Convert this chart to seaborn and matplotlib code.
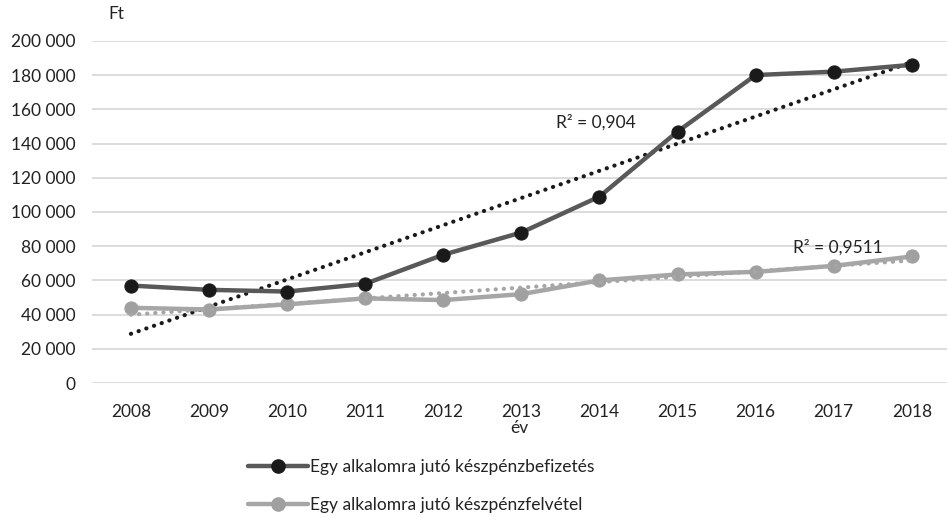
import numpy as np
import pandas as pd
import matplotlib
matplotlib.use("Agg")
import matplotlib.pyplot as plt
from matplotlib.lines import Line2D
import seaborn as sns

years = [2008, 2009, 2010, 2011, 2012, 2013, 2014, 2015, 2016, 2017, 2018]
befizetes = [57000, 54500, 53500, 58000, 75000, 88000, 109000, 147000, 180000, 182000, 186000]
felvetel = [44000, 43000, 46000, 49500, 48500, 52000, 60000, 63500, 65000, 68500, 74000]
series_names = ["Egy alkalomra jutó készpénzbefizetés", "Egy alkalomra jutó készpénzfelvétel"]
r2_labels = ["R² = 0,904", "R² = 0,9511"]
y_ticks = [0, 20000, 40000, 60000, 80000, 100000, 120000, 140000, 160000, 180000, 200000]

line_colors = ["#595959", "#a6a6a6"]
marker_colors = ["#1a1a1a", "#a0a0a0"]
trend_colors = ["#1a1a1a", "#a6a6a6"]
FS = 12.5

sns.set_style("white")
plt.rcParams["font.family"] = ["Lato", "DejaVu Sans"]
plt.rcParams["font.size"] = FS

df = pd.DataFrame({
    "idx": list(range(len(years))) * 2,
    "value": befizetes + felvetel,
    "series": [series_names[0]] * len(years) + [series_names[1]] * len(years),
})

fig = plt.figure(figsize=(9.47, 5.17), dpi=100)
ax = fig.add_axes([0.097, 0.259, 0.903, 0.662])

# gridlines first so they sit behind the data
for t in y_ticks:
    ax.axhline(t, color="#d9d9d9", lw=1.3, zorder=0)

x = np.arange(len(years))
for i, vals in enumerate([befizetes, felvetel]):
    # linear trendline, like Excel's
    k, b = np.polyfit(x, vals, 1)
    ax.plot(x, k * x + b, linestyle=(0, (0.05, 1.9)), color=trend_colors[i],
            lw=3, dash_capstyle="round", zorder=2 + i * 2)

for i, name in enumerate(series_names):
    sub = df[df["series"] == name]
    sns.lineplot(data=sub, x="idx", y="value", ax=ax, color=line_colors[i], lw=3.2,
                 marker="o", markersize=9.5, markerfacecolor=marker_colors[i],
                 markeredgecolor=marker_colors[i], legend=False, zorder=5 - i * 2)

ax.text(5.95, 152500, r2_labels[0], ha="center", va="center", fontsize=FS, color="#222222")
ax.text(9.05, 79500, r2_labels[1], ha="center", va="center", fontsize=FS, color="#222222")

ax.set_xlim(-0.5, 10.45)
ax.set_ylim(0, 200000)
ax.set_xticks(x)
ax.set_xticklabels([str(y) for y in years])
ax.set_yticks(y_ticks)
ax.set_yticklabels([f"{t:,}".replace(",", " ") for t in y_ticks])
ax.tick_params(axis="both", length=0, colors="#222222")
ax.tick_params(axis="y", pad=12)
ax.tick_params(axis="x", pad=15)
ax.set_xlabel("")
ax.set_ylabel("")
for s in ax.spines.values():
    s.set_visible(False)

fig.text(108 / 947, 1 - 14 / 517, "Ft", ha="left", va="center", fontsize=FS, color="#222222")
fig.text(519 / 947, 1 - 428 / 517, "év", ha="center", va="center", fontsize=FS, color="#222222")

handles = [Line2D([0], [0], color=line_colors[i], lw=3.2, marker="o", markersize=9.5,
                  markerfacecolor=marker_colors[i], markeredgecolor=marker_colors[i])
           for i in range(2)]
fig.legend(handles, series_names, loc="upper left", bbox_to_anchor=(0.245, 1 - 443 / 517),
           frameon=False, handlelength=3.5, handletextpad=0.1, labelspacing=1.3,
           fontsize=FS, labelcolor="#222222")

fig.savefig("out.png", dpi=100)
